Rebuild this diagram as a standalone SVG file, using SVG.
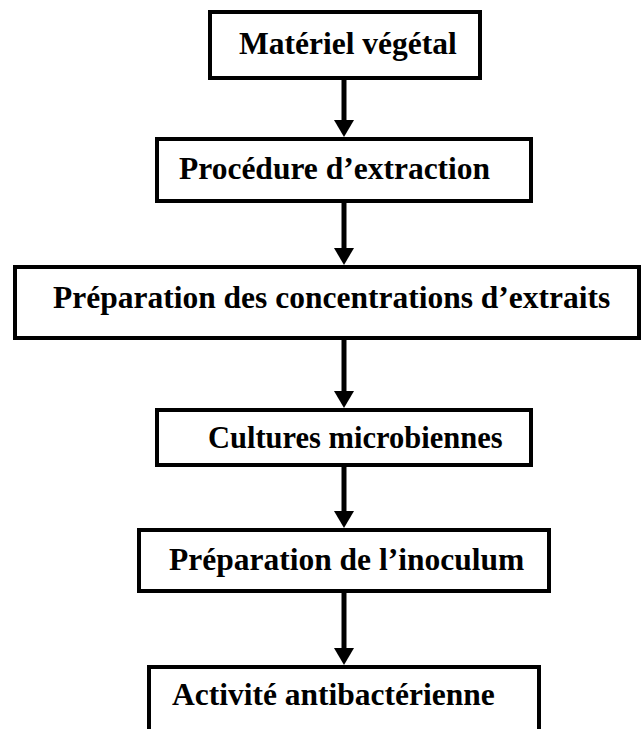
<svg xmlns="http://www.w3.org/2000/svg" width="644" height="729" viewBox="0 0 644 729">
<style>
.box{fill:#fff;stroke:#000;stroke-width:4}
.lbl{font-family:"Liberation Serif","Times New Roman",serif;font-weight:bold;font-size:31.5px;fill:#000}
.shaft{stroke:#000;stroke-width:5;fill:none}
.head{fill:#000}
</style>
<rect width="644" height="729" fill="#fff"/>
<g id="connectors">
<line class="shaft" x1="344" y1="80" x2="344" y2="122"/><polygon class="head" points="334,120 354,120 344,137"/>
<line class="shaft" x1="344" y1="203" x2="344" y2="250"/><polygon class="head" points="334,248 354,248 344,265"/>
<line class="shaft" x1="344" y1="340" x2="344" y2="393"/><polygon class="head" points="334,391 354,391 344,408"/>
<line class="shaft" x1="344" y1="467" x2="344" y2="513"/><polygon class="head" points="334,511 354,511 344,528"/>
<line class="shaft" x1="344" y1="593" x2="344" y2="650"/><polygon class="head" points="334,648 354,648 344,665"/>
</g>
<g id="n1"><rect class="box" x="210" y="12" width="270" height="66"/><text class="lbl" x="239" y="54">Matériel végétal</text></g>
<g id="n2"><rect class="box" x="157" y="139" width="374" height="62"/><text class="lbl" x="179" y="179">Procédure d’extraction</text></g>
<g id="n3"><rect class="box" x="15" y="267" width="624" height="71"/><text class="lbl" x="53" y="308">Préparation des concentrations d’extraits</text></g>
<g id="n4"><rect class="box" x="157" y="410" width="374" height="55"/><text class="lbl" x="208" y="448" style="font-size:30.5px">Cultures microbiennes</text></g>
<g id="n5"><rect class="box" x="139" y="530" width="410" height="61"/><text class="lbl" x="169" y="570">Préparation de l’inoculum</text></g>
<g id="n6"><rect class="box" x="149" y="667" width="390" height="80"/><text class="lbl" x="172" y="705">Activité antibactérienne</text></g>
</svg>
